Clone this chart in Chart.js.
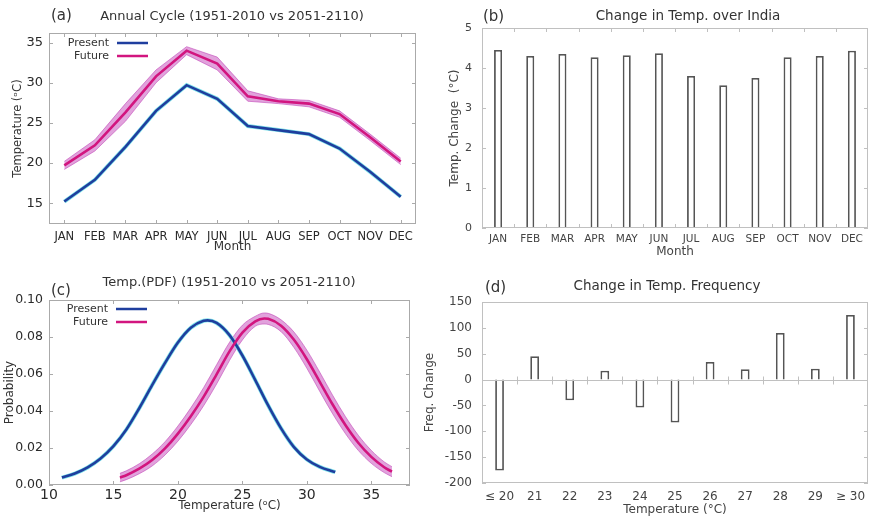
<!DOCTYPE html>
<html>
<head>
<meta charset="utf-8">
<script src="https://cdn.jsdelivr.net/npm/chart.js@4.4.1/dist/chart.umd.min.js"></script>
<style>
  body { margin: 0; background: #fff; width: 873px; height: 521px; position: relative; overflow: hidden; font-family: "DejaVu Sans", sans-serif; color: #333; }
  canvas { position: absolute; }
  .tag { position: absolute; font-size: 15px; transform: translateY(-50%); }
  .ttl { position: absolute; font-size: 13px; transform: translate(-50%, -50%); white-space: nowrap; }
</style>
</head>
<body>
<canvas id="chartA" width="436" height="260" style="left:0;top:0"></canvas>
<canvas id="chartB" width="437" height="260" style="left:436px;top:0"></canvas>
<canvas id="chartC" width="436" height="261" style="left:0;top:260px"></canvas>
<canvas id="chartD" width="455" height="261" style="left:418px;top:260px"></canvas>

<div class="tag" style="left:51px;top:15px">(a)</div>
<div class="ttl" style="left:232px;top:15px">Annual Cycle (1951-2010 vs 2051-2110)</div>
<div class="tag" style="left:483px;top:16px">(b)</div>
<div class="ttl" style="left:688px;top:15px;font-size:13.5px">Change in Temp. over India</div>
<div class="tag" style="left:51px;top:290px">(c)</div>
<div class="ttl" style="left:229px;top:281px">Temp.(PDF) (1951-2010 vs 2051-2110)</div>
<div class="tag" style="left:485px;top:287px">(d)</div>
<div class="ttl" style="left:667px;top:285px;font-size:13.5px">Change in Temp. Frequency</div>

<script>
// ---- data (a) / (b): annual cycle ----
const months = ["JAN", "FEB", "MAR", "APR", "MAY", "JUN", "JUL", "AUG", "SEP", "OCT", "NOV", "DEC"];
const presentCycle = [15.2, 17.9, 22.0, 26.5, 29.7, 28.0, 24.6, 24.1, 23.6, 21.8, 18.9, 15.8];
const futureCycle = [19.7, 22.2, 26.3, 30.8, 34.0, 32.4, 28.3, 27.7, 27.4, 26.1, 23.2, 20.2];
const futureCycleHigh = [20.2, 22.9, 27.4, 31.6, 34.5, 33.2, 29.0, 28.0, 27.8, 26.5, 23.6, 20.6];
const futureCycleLow = [19.2, 21.5, 25.2, 30.0, 33.5, 31.6, 27.7, 27.4, 27.0, 25.7, 22.8, 19.8];
const tempChange = [4.45, 4.30, 4.35, 4.27, 4.32, 4.37, 3.80, 3.57, 3.75, 4.27, 4.30, 4.43];

// ---- data (c): PDF ----
const presentTemp = [11, 12, 13, 14, 15, 16, 17, 18, 19, 20, 21, 22, 22.3, 23, 24, 25, 26, 27, 28, 29, 30, 31, 32.2];
const presentProb = [0.0040, 0.0062, 0.0095, 0.0143, 0.0210, 0.0300, 0.0415, 0.0540, 0.0660, 0.0770, 0.0850, 0.0888, 0.0890, 0.0876, 0.0810, 0.0700, 0.0567, 0.0430, 0.0306, 0.0205, 0.0138, 0.0098, 0.0070];
const futureTemp = [15.5, 16, 17, 18, 19, 20, 21, 22, 23, 24, 25, 26, 26.7, 27, 28, 29, 30, 31, 32, 33, 34, 35, 36, 36.6];
const futureProb = [0.0040, 0.0053, 0.0088, 0.0135, 0.0198, 0.0278, 0.0372, 0.0478, 0.0598, 0.0722, 0.0824, 0.0885, 0.0900, 0.0898, 0.0861, 0.0785, 0.0680, 0.0558, 0.0435, 0.0323, 0.0227, 0.0152, 0.0096, 0.0072];
const futureProbHigh = [0.0063, 0.0077, 0.0115, 0.0167, 0.0234, 0.0319, 0.0417, 0.0527, 0.0650, 0.0771, 0.0864, 0.0912, 0.0930, 0.0928, 0.0893, 0.0827, 0.0729, 0.0610, 0.0485, 0.0369, 0.0268, 0.0187, 0.0125, 0.0099];
const futureProbLow = [0.0017, 0.0029, 0.0061, 0.0103, 0.0162, 0.0237, 0.0327, 0.0429, 0.0546, 0.0673, 0.0784, 0.0858, 0.0870, 0.0868, 0.0829, 0.0743, 0.0631, 0.0506, 0.0385, 0.0277, 0.0186, 0.0117, 0.0067, 0.0045];

// ---- data (d): frequency change ----
const tempBins = ["≤ 20", "21", "22", "23", "24", "25", "26", "27", "28", "29", "≥ 30"];
const freqChange = [-176, 45, -40, 17, -54, -83, 34, 20, 90, 21, 125];

// tick values
const cycleTicks = [15, 20, 25, 30, 35];
const changeTicks = [0, 1, 2, 3, 4, 5];
const pdfTempTicks = [10, 15, 20, 25, 30, 35];
const pdfProbTicks = [0, 0.02, 0.04, 0.06, 0.08, 0.10];
const freqTicks = [-200, -150, -100, -50, 0, 50, 100, 150];

const BLUE = "#1f3e9e";
const MAGENTA = "#d2157f";
const CYAN = "#7fe3ea";
const BAND = "rgba(195, 70, 185, 0.5)";
const BAND_EDGE = "rgba(190, 60, 180, 0.55)";

Chart.defaults.font.family = "DejaVu Sans";
Chart.defaults.color = "#333";
Chart.defaults.animation = false;

const pts = (xs, ys) => xs.map((x, i) => ({ x: x, y: ys[i] }));
const setTicks = (vals) => (s) => { s.ticks = vals.map((v) => ({ value: v })); };

// frame + small inward tick marks
const framePlugin = {
    id: "frame",
    afterDatasetsDraw(chart, args, o) {
        const { ctx, chartArea: a, scales: { x, y } } = chart;
        const len = 4;
        ctx.save();
        ctx.strokeStyle = o.color || "#b0b0b0";
        ctx.lineWidth = 1;
        ctx.beginPath();
        y.ticks.forEach((t) => {
            const py = Math.round(y.getPixelForValue(t.value)) + 0.5;
            ctx.moveTo(a.left, py); ctx.lineTo(a.left + len, py);
            ctx.moveTo(a.right, py); ctx.lineTo(a.right - len, py);
        });
        let xs;
        if (o.xMode === "ticks") xs = x.ticks.map((t) => x.getPixelForValue(t.value));
        else if (o.xMode === "center") xs = x.getLabels().map((l, i) => x.getPixelForValue(i));
        else xs = x.getLabels().slice(1).map((l, i) => x.getPixelForValue(i + 0.5));
        const zero = o.zero ? Math.round(y.getPixelForValue(0)) + 0.5 : null;
        xs.forEach((px) => {
            px = Math.round(px) + 0.5;
            if (o.zero) { ctx.moveTo(px, zero - len); ctx.lineTo(px, zero + len); }
            else {
                ctx.moveTo(px, a.bottom); ctx.lineTo(px, a.bottom - len);
                ctx.moveTo(px, a.top); ctx.lineTo(px, a.top + len);
            }
        });
        if (o.zero) { ctx.moveTo(a.left, zero); ctx.lineTo(a.right, zero); }
        ctx.stroke();
        ctx.strokeRect(a.left + 0.5, a.top + 0.5, a.width - 1, a.height - 1);
        ctx.restore();
    },
};

// legend: text then a line sample, inside the plot
const keyPlugin = {
    id: "key",
    afterDraw(chart, args, o) {
        if (!o.items) return;
        const { ctx, chartArea: a } = chart;
        ctx.save();
        ctx.font = "11px 'DejaVu Sans'";
        ctx.textAlign = "right";
        ctx.textBaseline = "middle";
        o.items.forEach((it, i) => {
            const tx = a.left + o.dx;
            const ty = a.top + o.dy + i * 13;
            ctx.fillStyle = "#333";
            ctx.fillText(it.text, tx, ty);
            ctx.strokeStyle = it.color;
            ctx.lineWidth = 2.5;
            ctx.beginPath();
            ctx.moveTo(tx + 8, ty); ctx.lineTo(tx + 39, ty);
            ctx.stroke();
        });
        ctx.restore();
    },
};

Chart.register(framePlugin, keyPlugin);

const noGrid = { display: false, drawTicks: false };
const noBorder = { display: false };
const flat = { maxRotation: 0, minRotation: 0, autoSkip: false };

// ==== (a) annual cycle ====
new Chart(document.getElementById("chartA"), {
    type: "line",
    data: {
        labels: months,
        datasets: [
            { data: futureCycleHigh, borderColor: BAND_EDGE, borderWidth: 1, backgroundColor: BAND, fill: "+1", pointRadius: 0, order: 4 },
            { data: futureCycleLow, borderColor: BAND_EDGE, borderWidth: 1, fill: false, pointRadius: 0, order: 4 },
            { data: presentCycle, borderColor: CYAN, borderWidth: 4, fill: false, pointRadius: 0, order: 3 },
            { data: presentCycle, borderColor: BLUE, borderWidth: 2.6, fill: false, pointRadius: 0, order: 1 },
            { data: futureCycle, borderColor: MAGENTA, borderWidth: 2.6, fill: false, pointRadius: 0, order: 0 },
        ],
    },
    options: {
        responsive: false,
        layout: { padding: { top: 33, right: 20, left: 0, bottom: 0 } },
        plugins: {
            legend: { display: false },
            tooltip: { enabled: false },
            frame: { xMode: "center", color: "#aaa" },
            key: { dx: 60, dy: 10, items: [{ text: "Present", color: BLUE }, { text: "Future", color: MAGENTA }] },
        },
        scales: {
            x: {
                offset: true, grid: noGrid, border: noBorder,
                ticks: { ...flat, padding: 6, font: { size: 11.5 }, color: "#2a2a2a" },
                title: { display: true, text: "Month", font: { size: 12 }, padding: { top: 0, bottom: 6 } },
                afterFit(s) { s.height = 36; },
            },
            y: {
                min: 12.4, max: 36.2, grid: noGrid, border: noBorder,
                afterBuildTicks: setTicks(cycleTicks),
                ticks: { padding: 6, font: { size: 13 }, color: "#2a2a2a" },
                title: { display: true, text: "Temperature (ᵒC)", font: { size: 11.5 }, padding: { top: 11, bottom: 0 } },
                afterFit(s) { s.width = 49; },
            },
        },
    },
});

// ==== (b) change in temperature ====
new Chart(document.getElementById("chartB"), {
    type: "bar",
    data: {
        labels: months,
        datasets: [{ data: tempChange, backgroundColor: "#fff", borderColor: "#555", borderWidth: 1.8, barPercentage: 0.25, categoryPercentage: 1 }],
    },
    options: {
        responsive: false,
        layout: { padding: { top: 28, right: 5, left: 0, bottom: 0 } },
        plugins: {
            legend: { display: false },
            tooltip: { enabled: false },
            frame: { xMode: "between", color: "#c0c0c0" },
        },
        scales: {
            x: {
                grid: noGrid, border: noBorder,
                ticks: { ...flat, padding: 5, font: { size: 10.5 }, color: "#444" },
                title: { display: true, text: "Month", font: { size: 12 }, color: "#444", padding: { top: 0, bottom: 1 } },
                afterFit(s) { s.height = 32; },
            },
            y: {
                min: 0, max: 5, grid: noGrid, border: noBorder,
                afterBuildTicks: setTicks(changeTicks),
                ticks: { padding: 10, font: { size: 11 }, color: "#444" },
                title: { display: true, text: "Temp. Change  (°C)", font: { size: 12 }, color: "#444", padding: { top: 12, bottom: 0 } },
                afterFit(s) { s.width = 46; },
            },
        },
    },
});

// ==== (c) PDF ====
const curve = { pointRadius: 0, fill: false, cubicInterpolationMode: "monotone" };
new Chart(document.getElementById("chartC"), {
    type: "line",
    data: {
        datasets: [
            { ...curve, data: pts(futureTemp, futureProbHigh), borderColor: BAND_EDGE, borderWidth: 1, backgroundColor: BAND, fill: "+1", order: 4 },
            { ...curve, data: pts(futureTemp, futureProbLow), borderColor: BAND_EDGE, borderWidth: 1, order: 4 },
            { ...curve, data: pts(presentTemp, presentProb), borderColor: CYAN, borderWidth: 4, order: 3 },
            { ...curve, data: pts(presentTemp, presentProb), borderColor: BLUE, borderWidth: 2.6, order: 1 },
            { ...curve, data: pts(futureTemp, futureProb), borderColor: MAGENTA, borderWidth: 2.6, order: 0 },
        ],
    },
    options: {
        responsive: false,
        layout: { padding: { top: 40, right: 26, left: 0, bottom: 0 } },
        plugins: {
            legend: { display: false },
            tooltip: { enabled: false },
            frame: { xMode: "ticks", color: "#aaa" },
            key: { dx: 59, dy: 9, items: [{ text: "Present", color: BLUE }, { text: "Future", color: MAGENTA }] },
        },
        scales: {
            x: {
                type: "linear", min: 10, max: 38, grid: noGrid, border: noBorder,
                afterBuildTicks: setTicks(pdfTempTicks),
                ticks: { ...flat, padding: 2, font: { size: 14 }, color: "#2a2a2a" },
                title: { display: true, text: "Temperature (ᵒC)", font: { size: 12 }, padding: { top: 0, bottom: 8 } },
                afterFit(s) { s.height = 36; },
            },
            y: {
                min: 0, max: 0.1, grid: noGrid, border: noBorder,
                afterBuildTicks: setTicks(pdfProbTicks),
                ticks: { padding: 6, font: { size: 12.5 }, color: "#2a2a2a", callback: (v) => v.toFixed(2) },
                title: { display: true, text: "Probability", font: { size: 12 }, padding: { top: 3, bottom: 0 } },
                afterFit(s) { s.width = 49; },
            },
        },
    },
});

// ==== (d) frequency change ====
new Chart(document.getElementById("chartD"), {
    type: "bar",
    data: {
        labels: tempBins,
        datasets: [{ data: freqChange, backgroundColor: "#fff", borderColor: "#555", borderWidth: 1.8, barPercentage: 0.25, categoryPercentage: 1 }],
    },
    options: {
        responsive: false,
        layout: { padding: { top: 42, right: 5, left: 0, bottom: 0 } },
        plugins: {
            legend: { display: false },
            tooltip: { enabled: false },
            frame: { xMode: "between", zero: true, color: "#c0c0c0" },
        },
        scales: {
            x: {
                grid: noGrid, border: noBorder,
                ticks: { ...flat, padding: 7, font: { size: 12 }, color: "#444" },
                title: { display: true, text: "Temperature (°C)", font: { size: 12 }, color: "#444", padding: { top: 0, bottom: 4 } },
                afterFit(s) { s.height = 38; },
            },
            y: {
                min: -200, max: 150, grid: noGrid, border: noBorder,
                afterBuildTicks: setTicks(freqTicks),
                ticks: { padding: 10, font: { size: 12 }, color: "#444" },
                title: { display: true, text: "Freq. Change", font: { size: 12 }, color: "#444", padding: { top: 5, bottom: 0 } },
                afterFit(s) { s.width = 64; },
            },
        },
    },
});
</script>
</body>
</html>
